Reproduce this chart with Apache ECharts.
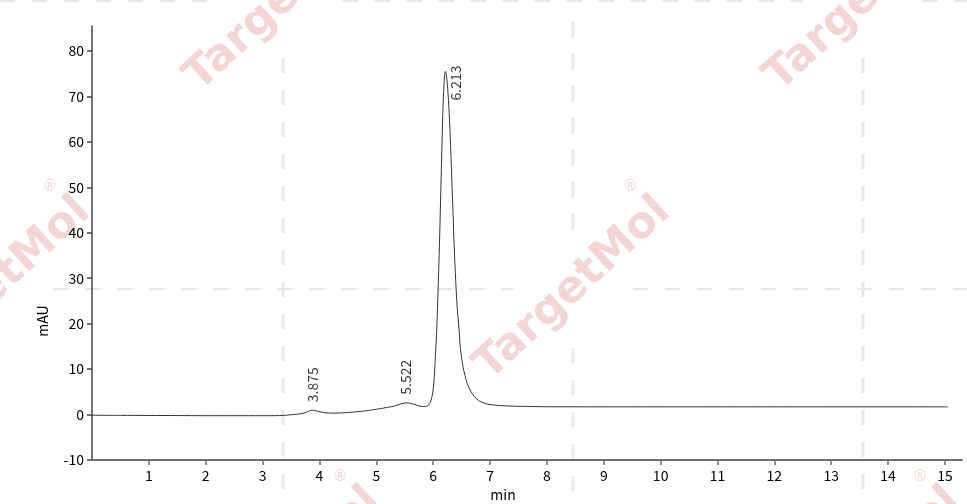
<!DOCTYPE html>
<html>
<head>
<meta charset="utf-8">
<script src="https://cdn.jsdelivr.net/npm/echarts@6/dist/echarts.min.js"></script>
<style>
html,body{margin:0;padding:0;background:#fff;}
#chart{width:967px;height:504px;}
</style>
</head>
<body>
<div id="chart"></div>
<script>
// ---- data ----
const timeValues = [0, 0.5, 1.0, 1.5, 2.0, 2.5, 3.0, 3.3, 3.5, 3.65, 3.75, 3.82, 3.875, 3.95, 4.07, 4.25, 4.5, 4.8, 5.07, 5.2, 5.3, 5.42, 5.522, 5.65, 5.75, 5.83, 5.9, 5.94, 5.98, 6.0, 6.02, 6.04, 6.06, 6.08, 6.10, 6.12, 6.14, 6.16, 6.18, 6.20, 6.213, 6.23, 6.25, 6.27, 6.29, 6.31, 6.33, 6.35, 6.37, 6.39, 6.42, 6.45, 6.48, 6.52, 6.56, 6.60, 6.65, 6.72, 6.80, 6.90, 7.0, 7.15, 7.4, 7.7, 8.0, 8.6, 9.5, 11, 13, 15.05];
const signalValues = [-0.15, -0.18, -0.2, -0.22, -0.25, -0.25, -0.25, -0.22, -0.05, 0.15, 0.4, 0.8, 0.96, 0.8, 0.45, 0.3, 0.45, 0.8, 1.3, 1.6, 1.8, 2.3, 2.6, 2.3, 1.9, 1.75, 1.9, 2.4, 4.0, 5.5, 8.5, 13, 18, 25, 33, 42, 52, 62, 70, 74.5, 75.5, 74.8, 72.5, 69, 64, 58, 51, 44, 37, 31, 24, 19.5, 14.5, 10.8, 8.6, 6.8, 5.4, 4.0, 3.1, 2.5, 2.2, 2.0, 1.85, 1.78, 1.72, 1.7, 1.7, 1.7, 1.7, 1.7];
const peakTimes = [3.875, 5.522, 6.213];
const peakHeights = [0.96, 2.6, 75.5];
const xTickValues = [1,2,3,4,5,6,7,8,9,10,11,12,13,14,15];
const yTickValues = [-10,0,10,20,30,40,50,60,70,80];
const xAxisName = 'min';
const yAxisName = 'mAU';
const watermarkText = 'TargetMol';

// ---- build ----
const lineData = timeValues.map((t, i) => [t, signalValues[i]]);
const peakData = peakTimes.map((t, i) => {
  const item = { value: [t, peakHeights[i]] };
  if (i === peakTimes.length - 1) {
    item.label = { position: [10, -6], align: 'right', verticalAlign: 'middle', rotate: 90 };
  }
  return item;
});

const font = "'Noto Sans CJK SC', 'Noto Sans', sans-serif";
const wmColor = '#f4d6d6';
const dashColor = '#e7e7e7';

const graphics = [];
function vline(x, y1, y2) {
  graphics.push({ type: 'line', silent: true, z: -10, shape: { x1: x, y1: y1, x2: x, y2: y2 },
    style: { stroke: dashColor, lineWidth: 3, lineDash: [15, 17] } });
}
function hline(y, x1, x2) {
  graphics.push({ type: 'line', silent: true, z: -10, shape: { x1: x1, y1: y, x2: x2, y2: y },
    style: { stroke: dashColor, lineWidth: 2, lineDash: [15, 17] } });
}
vline(283, 58, 520); vline(573, 22, 229); vline(573, 348, 504); vline(863, 58, 520);
hline(289, 53, 513); hline(289, 633, 967);
hline(1, 0, 223); hline(1, 343, 803); hline(1, 923, 967);

const wmCenters = [[283, 0], [863, 0], [-7, 289], [573, 289], [283, 579], [863, 579]];
wmCenters.forEach(c => {
  graphics.push({ type: 'text', silent: true, z: -9, x: c[0], y: c[1], rotation: 42.5 * Math.PI / 180,
    style: { text: watermarkText, fill: wmColor, font: "bold 44px 'DejaVu Sans', sans-serif", align: 'center', verticalAlign: 'middle' } });
  graphics.push({ type: 'text', silent: true, z: -9, x: c[0] + 57, y: c[1] - 102,
    style: { text: '®', fill: wmColor, font: "15px 'DejaVu Sans', sans-serif", align: 'center', verticalAlign: 'middle' } });
});

const chart = echarts.init(document.getElementById('chart'), null, { renderer: 'canvas' });
chart.setOption({
  animation: false,
  backgroundColor: '#fff',
  graphic: graphics,
  grid: { left: 92, right: 5, top: 26, bottom: 44, containLabel: false, outerBoundsMode: 'none' },
  xAxis: {
    type: 'value', min: 0, max: 15.3,
    name: xAxisName, nameLocation: 'middle', nameGap: 26,
    nameTextStyle: { fontFamily: font, fontSize: 14, color: '#000', padding: [0, 48, 0, 0] },
    axisLine: { show: true, onZero: false, lineStyle: { color: '#6e6e6e', width: 2 } },
    axisTick: { show: true, length: 5, customValues: xTickValues, lineStyle: { color: '#6e6e6e', width: 1.5 } },
    axisLabel: { customValues: xTickValues, fontFamily: font, fontSize: 14, color: '#000', margin: 9 },
    splitLine: { show: false }
  },
  yAxis: {
    type: 'value', min: -10, max: 85.5, interval: 10,
    name: yAxisName, nameLocation: 'middle', nameGap: 42, nameRotate: 90,
    nameTextStyle: { fontFamily: font, fontSize: 14, color: '#000', padding: [0, 156, 0, 0] },
    axisLine: { show: true, onZero: false, lineStyle: { color: '#444', width: 1.5 } },
    axisTick: { show: true, length: 5, customValues: yTickValues, lineStyle: { color: '#444', width: 1.5 } },
    axisLabel: { customValues: yTickValues, fontFamily: font, fontSize: 14, color: '#000', margin: 8 },
    splitLine: { show: false }
  },
  series: [
    {
      type: 'line', data: lineData, showSymbol: false, symbol: 'none', smooth: 0.3,
      lineStyle: { color: '#333', width: 1 }, z: 3
    },
    {
      type: 'scatter', data: peakData, symbolSize: 0, z: 4,
      label: {
        show: true, position: 'top', distance: 8, rotate: 90, align: 'left', verticalAlign: 'middle',
        fontFamily: font, fontSize: 14, color: '#000',
        formatter: p => p.value[0].toFixed(3)
      }
    }
  ]
});
</script>
</body>
</html>
